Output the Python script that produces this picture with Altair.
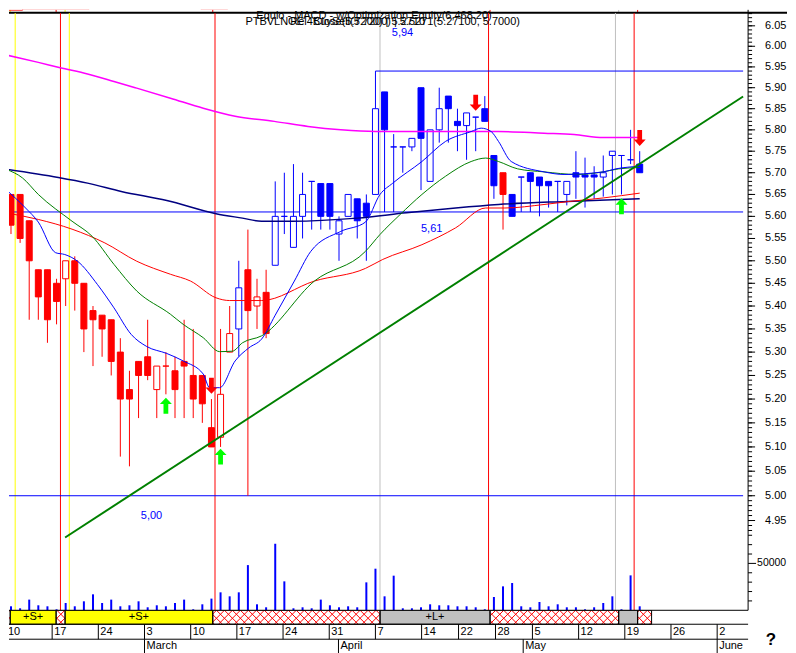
import math
import altair as alt
import pandas as pd

FONT = "Liberation Sans"

# ---------------- daily bars (index 0 = Mon 10 Feb 2003) ----------------
OPEN = [5.65, 5.65, 5.59, 5.48, 5.48, 5.45, 5.46, 5.50, 5.45, 5.39,
        5.38, 5.37, 5.30, 5.22, 5.28, 5.29, 5.22, 5.27, 5.26, 5.28,
        5.25, 5.25, 5.14, 5.12, 5.30, 5.35, 5.48, 5.40, 5.43, 5.49,
        5.60, 5.53, 5.60, 5.68, 5.675, 5.675, 5.56, 5.60, 5.64, 5.63,
        5.65, 5.89, 5.76, 5.76, 5.76, 5.90, 5.68, 5.80, 5.88, 5.82,
        5.81, 5.83, 5.85, 5.74, 5.70, 5.65, 5.69, 5.70, 5.69, 5.68,
        5.68, 5.65, 5.70, 5.695, 5.695, 5.69, 5.74, 5.74, 5.73, 5.72]
HIGH = [5.65, 5.65, 5.59, 5.48, 5.48, 5.46, 5.50, 5.51, 5.45, 5.40,
        5.38, 5.37, 5.33, 5.26, 5.28, 5.37, 5.27, 5.30, 5.29, 5.37,
        5.35, 5.25, 5.20, 5.35, 5.40, 5.50, 5.57, 5.46, 5.48, 5.68,
        5.70, 5.72, 5.70, 5.68, 5.675, 5.675, 5.60, 5.65, 5.64, 5.65,
        5.85, 5.89, 5.79, 5.76, 5.78, 5.90, 5.80, 5.90, 5.88, 5.85,
        5.84, 5.83, 5.88, 5.74, 5.70, 5.65, 5.69, 5.70, 5.69, 5.68,
        5.68, 5.68, 5.75, 5.735, 5.715, 5.74, 5.75, 5.74, 5.80, 5.75]
LOW = [5.56, 5.54, 5.37, 5.37, 5.32, 5.36, 5.40, 5.39, 5.30, 5.27,
       5.29, 5.25, 5.08, 5.06, 5.16, 5.24, 5.16, 5.21, 5.16, 5.16,
       5.16, 5.15, 5.10, 5.10, 5.30, 5.29, 5.00, 5.35, 5.33, 5.49,
       5.56, 5.53, 5.55, 5.57, 5.57, 5.57, 5.50, 5.60, 5.55, 5.50,
       5.65, 5.61, 5.61, 5.70, 5.75, 5.66, 5.68, 5.77, 5.77, 5.75,
       5.73, 5.75, 5.82, 5.64, 5.57, 5.60, 5.61, 5.61, 5.60, 5.62,
       5.61, 5.625, 5.64, 5.62, 5.64, 5.645, 5.65, 5.65, 5.72, 5.70]
CLOSE = [5.58, 5.55, 5.50, 5.42, 5.37, 5.41, 5.50, 5.45, 5.35, 5.37,
         5.35, 5.28, 5.20, 5.20, 5.25, 5.25, 5.27, 5.27, 5.22, 5.27,
         5.20, 5.19, 5.10, 5.21, 5.34, 5.44, 5.39, 5.42, 5.34, 5.60,
         5.60, 5.60, 5.65, 5.68, 5.60, 5.60, 5.59, 5.65, 5.59, 5.60,
         5.85, 5.80, 5.76, 5.76, 5.78, 5.78, 5.80, 5.85, 5.85, 5.81,
         5.84, 5.83, 5.82, 5.67, 5.65, 5.60, 5.69, 5.68, 5.67, 5.67,
         5.68, 5.68, 5.69, 5.69, 5.69, 5.70, 5.75, 5.74, 5.73, 5.70]
BAR_STATE = "R" * 25 + "B" + "R" * 3 + "B" * 25 + "R" + "B" * 15
VOLUME = [4255, 2128, 11380, 5319, 4255, 1064, 7766, 4255, 9574, 17021,
          7766, 11380, 4255, 5319, 9574, 3191, 5319, 4255, 7766, 11380,
          1064, 6383, 12447, 19148, 14893, 19148, 48191, 6383, 3191, 70955,
          30851, 2128, 3191, 2128, 11380, 5319, 3191, 4255, 3191, 29787,
          44361, 14893, 36914, 2128, 2128, 3191, 6383, 5319, 5319, 4255,
          4255, 3191, 1064, 14184, 25532, 29078, 4255, 3191, 8865, 4255,
          6383, 3191, 3191, 1064, 3191, 7766, 14893, 1064, 37234, 4255]

# ---------------- moving averages (index, value) ----------------
MA_MAGENTA_I = [-0.54, 3.0, 5.4, 8.4, 11.3, 13.8, 17.5, 21.1, 24.6, 28.9, 32.6, 36.2, 40, 45, 53.5, 58.5, 61.8, 65, 69]
MA_MAGENTA = [5.979, 5.961, 5.948, 5.933, 5.915, 5.899, 5.875, 5.851, 5.832, 5.820, 5.808, 5.800, 5.796, 5.796, 5.796, 5.792, 5.789, 5.782, 5.782]
MA_NAVY_I = [-0.54, 5.2, 8.4, 12.1, 17.1, 22.5, 25.4, 27.5, 30.8, 38, 43.4, 48.8, 53.5, 61, 69]
MA_NAVY = [5.708, 5.689, 5.676, 5.657, 5.636, 5.606, 5.596, 5.589, 5.589, 5.596, 5.608, 5.619, 5.627, 5.634, 5.640]
MA_RED_I = [-0.54, 3.0, 6.7, 10.3, 13.8, 17.5, 19.7, 22.5, 24, 27.5, 33.3, 38.9, 40.8, 45.1, 48.8, 52.1, 54.2, 58.5, 61.3, 65, 69]
MA_RED = [5.608, 5.593, 5.571, 5.540, 5.499, 5.470, 5.455, 5.418, 5.412, 5.412, 5.455, 5.483, 5.503, 5.536, 5.574, 5.619, 5.619, 5.627, 5.634, 5.642, 5.653]
MA_GREEN_I = [-0.54, 1.26, 3.0, 6.7, 8.9, 11.3, 13.8, 17.5, 18.9, 21.1, 22.9, 24.3, 25.4, 27.5, 33.3, 38.9, 40.5, 42.7, 45.1, 47.7, 50.5, 52.1, 53.5, 55.6, 58.5, 62.1, 65, 66.7, 69]
MA_GREEN = [5.708, 5.688, 5.650, 5.589, 5.555, 5.492, 5.433, 5.382, 5.360, 5.331, 5.301, 5.302, 5.320, 5.335, 5.455, 5.521, 5.559, 5.604, 5.650, 5.692, 5.726, 5.734, 5.726, 5.709, 5.702, 5.696, 5.702, 5.709, 5.712]
MA_BLUE_I = [-0.54, 1.6, 3.0, 4.9, 5.9, 7.3, 9.5, 11.3, 13.2, 14.9, 17.1, 18.9, 21.1, 21.8, 22.9, 24.6, 26.1, 27.5, 29, 31.1, 32.9, 36.2, 38.9, 40.5, 41.9, 45.1, 47.7, 50.5, 51.6, 52.7, 53.5, 54.9, 58.5, 60.7, 65, 66.4, 69]
MA_BLUE = [5.661, 5.619, 5.587, 5.518, 5.514, 5.499, 5.447, 5.396, 5.338, 5.312, 5.297, 5.281, 5.253, 5.224, 5.224, 5.281, 5.309, 5.328, 5.38, 5.455, 5.521, 5.566, 5.587, 5.650, 5.676, 5.726, 5.773, 5.796, 5.804, 5.796, 5.773, 5.726, 5.702, 5.696, 5.702, 5.709, 5.715]

# trend line and level lines
TREND_I = [5.94, 80.35]
TREND_P = [4.916, 5.879]
LEVEL_P = [5.94, 5.61, 5.00]
LEVEL_FROM = [40, -0.54, -0.54]
LEVEL_TEXT = ["5,94", "5,61", "5,00"]
LEVEL_TEXT_I = [41.8, 45.0, 14.25]
LEVEL_TEXT_P = [6.033, 5.571, 4.960]
BOX_I, BOX_FROM, BOX_TO = 40, 5.85, 5.94

# signals
SIG_I = [0.46, 5.43, 6.40, 22.39, 40.50, 52.41, 66.34, 68.39]
SIG_COL = ["#ffff00", "#ff0000", "#ffff00", "#ff0000", "#c0c0c0", "#ff0000", "#c0c0c0", "#ff0000"]
UP_I = [17, 23, 67]
UP_P = [5.186, 5.080, 5.623]
DN_I = [22, 51, 69]
DN_P = [5.228, 5.864, 5.781]

# strip (trade state)
SEG_FROM = [-2, 0.46, 5.43, 6.40, 22.39, 40.50, 52.41, 66.34, 68.39]
SEG_TO = [0.46, 5.43, 6.40, 22.39, 40.50, 52.41, 66.34, 68.39, 69.90]
SEG_KIND = ["flat", "short", "flat", "short", "flat", "long", "flat", "long", "flat"]
SEG_TEXT = ["", "+S+", "", "+S+", "", "+L+", "", "", ""]

# equity
EQ_I = [-0.54, 1.8, 9.0, 21.1, 24.0, 46.2, 53.5, 57.0, 62.4, 65.7, 69.0]
EQ_V = [6062, 6122, 6200, 6122, 6260, 6320, 6260, 6398, 6380, 6458, 6468.2]

# axes
PRICE_LABELS = [4.95, 5.0, 5.05, 5.1, 5.15, 5.2, 5.25, 5.3, 5.35, 5.4, 5.45, 5.5, 5.55, 5.6,
                5.65, 5.7, 5.75, 5.8, 5.85, 5.9, 5.95, 6.0, 6.05]
VOL_TICKS = [10000, 20000, 30000, 40000, 60000, 70000, 80000]
VOL_LABEL = [50000]
DAY_I = [0, 5, 10, 15, 20, 25, 30, 35, 40, 45, 49, 53, 57, 62, 67, 72, 77]
DAY_TXT = ["10", "17", "24", "3", "10", "17", "24", "31", "7", "14", "22", "28", "5", "12", "19", "26", "2"]
MON_I = [-5, 15, 36, 56, 77]
MON_TXT = ["February", "March", "April", "May", "June"]

TITLE1 = "Equio - MACD - w/Optimization Equity(6,468.20)"
TITLE2A = "PTBVLNOE - Close(5.7200) | 5.2710"
TITLE2B = "Rel4BuySell(5.7200) | 5.5271(5.27100, 5.7000)"

# ---------------- layout ----------------
PXI = 9.26                    # pixels per trading day
X1 = 80.35                    # right edge of plot (index units)
W = 741                       # plot width
XL = X1 - W / PXI             # left edge of plot (index units)
H_TOP, H_MAIN, H_STRIP = 3, 599, 43
P_LO, P_HI = 4.773, 6.082
V_MAX = 637234
R_STRIP, R_DAY = 14, 29       # row boundaries inside the strip pane

xs = alt.Scale(domain=[XL, X1], nice=False, zero=False)
ys = alt.Scale(type="log", domain=[P_LO, P_HI], nice=False, zero=False)
vs = alt.Scale(domain=[0, V_MAX], nice=False, zero=True)
ss = alt.Scale(domain=[0, H_STRIP], reverse=True, nice=False, zero=False)


def X(f="i"):
    return alt.X(f"{f}:Q", scale=xs, axis=None)


def Y(f="p"):
    return alt.Y(f"{f}:Q", scale=ys, axis=None)


def SY(f):
    return alt.Y(f"{f}:Q", scale=ss, axis=None)


one = pd.DataFrame({"d": [0]})

bars = pd.DataFrame({"i": list(range(len(OPEN))), "o": OPEN, "h": HIGH, "l": LOW, "c": CLOSE,
                     "v": VOLUME})
bars["col"] = ["#ff0000" if s == "R" else "#0000ff" for s in BAR_STATE]
bars["fillc"] = ["#ffffff" if c > o else col for o, c, col in zip(bars.o, bars.c, bars.col)]

sig = pd.DataFrame({"i": SIG_I, "col": SIG_COL})
sig_rules = alt.Chart(sig).mark_rule(strokeWidth=1, clip=True).encode(
    x=X(), color=alt.Color("col:N", scale=None))

levels = alt.Chart(pd.DataFrame({"a": LEVEL_FROM, "p": LEVEL_P})).transform_calculate(
    b=str(X1)).mark_rule(color="#0000ff", strokeWidth=1, clip=True).encode(x=X("a"), x2="b:Q", y=Y())
box = alt.Chart(pd.DataFrame({"i": [BOX_I], "p": [BOX_FROM], "p2": [BOX_TO]})).mark_rule(
    color="#0000ff", strokeWidth=1).encode(x=X(), y=Y(), y2="p2:Q")

wicks = alt.Chart(bars).mark_rule(strokeWidth=1, clip=True).encode(
    x=X(), y=Y("l"), y2="h:Q", color=alt.Color("col:N", scale=None))
bodies = alt.Chart(bars).mark_bar(size=6, strokeWidth=1, clip=True).encode(
    x=X(), y=Y("o"), y2="c:Q", fill=alt.Fill("fillc:N", scale=None), stroke=alt.Stroke("col:N", scale=None))


def ma(idx, vals, color, width):
    return alt.Chart(pd.DataFrame({"i": idx, "p": vals})).mark_line(
        color=color, strokeWidth=width, interpolate="monotone", clip=True).encode(x=X(), y=Y())


mas = [ma(MA_MAGENTA_I, MA_MAGENTA, "#ff00ff", 1.5),
       ma(MA_NAVY_I, MA_NAVY, "#000080", 1.5),
       ma(MA_RED_I, MA_RED, "#ff0000", 1),
       ma(MA_GREEN_I, MA_GREEN, "#008000", 1),
       ma(MA_BLUE_I, MA_BLUE, "#0000ff", 1)]

trend = alt.Chart(pd.DataFrame({"i": TREND_I, "p": TREND_P})).mark_line(
    color="#008000", strokeWidth=2, clip=True).encode(x=X(), y=Y())

UP_SHAPE = "M0,-1L0.75,-0.2L0.3,-0.2L0.3,1L-0.3,1L-0.3,-0.2L-0.75,-0.2Z"
DN_SHAPE = "M0,1L0.75,0.2L0.3,0.2L0.3,-1L-0.3,-1L-0.3,0.2L-0.75,0.2Z"
ups = alt.Chart(pd.DataFrame({"i": UP_I, "p": UP_P})).mark_point(
    shape=UP_SHAPE, size=256, filled=True, color="#00ff00", opacity=1).encode(x=X(), y=Y())
dns = alt.Chart(pd.DataFrame({"i": DN_I, "p": DN_P})).mark_point(
    shape=DN_SHAPE, size=256, filled=True, color="#ff0000", opacity=1).encode(x=X(), y=Y())

ann = alt.Chart(pd.DataFrame({"i": LEVEL_TEXT_I, "p": LEVEL_TEXT_P, "t": LEVEL_TEXT})).mark_text(
    align="left", baseline="middle", color="#0000ff", font=FONT, fontSize=11).encode(x=X(), y=Y(), text="t:N")

t2 = alt.Chart(pd.DataFrame({"t": [TITLE2A]})).mark_text(
    align="left", baseline="middle", font=FONT, fontSize=11, color="black").encode(
    text="t:N", x=alt.value(237), y=alt.value(9.5))
t3 = alt.Chart(pd.DataFrame({"t": [TITLE2B]})).mark_text(
    align="left", baseline="middle", font=FONT, fontSize=11, color="black").encode(
    text="t:N", x=alt.value(282), y=alt.value(9.5))

# price axis drawn with marks on the price scale
p_domain = alt.Chart(one).mark_rule(color="black").encode(
    x=alt.value(W), y=alt.value(0), y2=alt.value(H_MAIN))
p_major = alt.Chart(pd.DataFrame({"p": PRICE_LABELS})).mark_rule(color="black").encode(
    x=alt.value(W), x2=alt.value(W + 7), y=Y())
p_minor = alt.Chart(alt.sequence(493, 609, 1, as_="k")).transform_calculate(
    p="datum.k / 100").mark_rule(color="black").encode(x=alt.value(W), x2=alt.value(W + 4), y=Y())
p_labels = alt.Chart(pd.DataFrame({"p": PRICE_LABELS})).transform_calculate(
    t="format(datum.p, '.2f')").mark_text(
    align="left", baseline="middle", font=FONT, fontSize=11, color="black").encode(
    x=alt.value(W + 17), y=Y(), text="t:N")

price_layer = alt.layer(sig_rules, levels, box, wicks, bodies, *mas, trend, ups, dns, ann, t2, t3,
                        p_domain, p_major, p_minor, p_labels)

vbars = alt.Chart(bars).mark_bar(size=2, color="#0000ff").encode(
    x=X(), y=alt.Y("v:Q", scale=vs, axis=None))
vticks = alt.Chart(pd.DataFrame({"v": VOL_TICKS})).mark_rule(color="black").encode(
    x=alt.value(W), x2=alt.value(W + 4), y=alt.Y("v:Q", scale=vs, axis=None))
vmajor = alt.Chart(pd.DataFrame({"v": VOL_LABEL})).mark_rule(color="black").encode(
    x=alt.value(W), x2=alt.value(W + 8), y=alt.Y("v:Q", scale=vs, axis=None))
vlabel = alt.Chart(pd.DataFrame({"v": VOL_LABEL})).mark_text(
    align="left", baseline="middle", font=FONT, fontSize=10.5, color="black").encode(
    x=alt.value(W + 9), y=alt.Y("v:Q", scale=vs, axis=None), text=alt.Text("v:Q", format="d"))
vol_layer = alt.layer(vbars, vticks, vmajor, vlabel)

main = alt.layer(price_layer, vol_layer).resolve_scale(y="independent").properties(width=W, height=H_MAIN)

# ---------------- top (equity) pane ----------------
eq_line = alt.Chart(pd.DataFrame({"i": EQ_I, "e": EQ_V})).mark_line(
    color="#ff0000", strokeWidth=1, interpolate="step-after", clip=True).encode(
    x=X(), y=alt.Y("e:Q", scale=alt.Scale(domain=[5900, 6080], nice=False, zero=False), axis=None))
eq_border = alt.Chart(one).mark_rule(color="black", strokeWidth=2).encode(
    x=alt.value(0), x2=alt.value(780), y=alt.value(H_TOP))
eq_axis = alt.Chart(one).mark_rule(color="black", strokeWidth=1).encode(
    x=alt.value(W), y=alt.value(0), y2=alt.value(H_TOP))
t1 = alt.Chart(pd.DataFrame({"t": [TITLE1]})).mark_text(
    align="left", baseline="top", font=FONT, fontSize=11, color="black").encode(
    text="t:N", x=alt.value(248), y=alt.value(0))
top_pane = alt.layer(sig_rules, eq_line, eq_axis, eq_border, t1).properties(width=W, height=H_TOP)

# ---------------- state strip + date axis ----------------
PX_PER_I = W / (X1 - XL)
HATCH_STEP = 8


def hatch_rows(a, b):
    pa, pb = (max(a, XL) - XL) * PX_PER_I, (b - XL) * PX_PER_I
    out = []
    c = math.floor((pa - R_STRIP) / HATCH_STEP) * HATCH_STEP
    while c <= pb + R_STRIP:
        lo, hi = max(0.0, pa - c), min(R_STRIP, pb - c)
        if hi > lo:
            out.append((c + lo, c + hi, lo, hi))
        lo, hi = max(0.0, c - pb), min(R_STRIP, c - pa)
        if hi > lo:
            out.append((c - lo, c - hi, lo, hi))
        c += HATCH_STEP
    return out


hrows = []
for a, b, k in zip(SEG_FROM, SEG_TO, SEG_KIND):
    if k == "flat" and b > XL:
        for x0, x1, y0, y1 in hatch_rows(a, b):
            hrows.append({"i": XL + x0 / PX_PER_I, "i2": XL + x1 / PX_PER_I, "y": y0, "y2": y1})
hatch = alt.Chart(pd.DataFrame(hrows)).mark_rule(color="#ff0000", strokeWidth=1, clip=True).encode(
    x=X(), x2="i2:Q", y=SY("y"), y2="y2:Q")

segs = pd.DataFrame({"i": SEG_FROM, "i2": SEG_TO, "kind": SEG_KIND, "t": SEG_TEXT})
SEG_FILL = alt.Scale(domain=["flat", "short", "long"], range=["#ffffff", "#ffff00", "#c0c0c0"])
seg_rect = alt.Chart(segs).transform_calculate(y0="0", y1=str(R_STRIP)).mark_rect(clip=True).encode(
    x=X(), x2="i2:Q", y=SY("y0"), y2="y1:Q", fill=alt.Fill("kind:N", scale=SEG_FILL, legend=None))
seg_border = alt.Chart(segs).transform_calculate(y0="0", y1=str(R_STRIP)).mark_rect(
    stroke="black", strokeWidth=1, fillOpacity=0, clip=True).encode(
    x=X(), x2="i2:Q", y=SY("y0"), y2="y1:Q")
seg_text = alt.Chart(segs).transform_filter("datum.t != ''").transform_calculate(
    m="(datum.i + datum.i2) / 2", ym=str(R_STRIP / 2)).mark_text(
    font=FONT, fontSize=11, color="black", baseline="middle").encode(
    x=X("m"), y=SY("ym"), text="t:N")

hlines = alt.Chart(pd.DataFrame({"r": [0, R_STRIP, R_DAY]})).mark_rule(color="black", strokeWidth=1).encode(
    x=alt.value(0), x2=alt.value(W), y=SY("r"))

days = pd.DataFrame({"i": DAY_I, "t": DAY_TXT})
day_sep = alt.Chart(days).transform_calculate(y0=str(R_STRIP), y1=str(R_DAY)).mark_rule(
    color="black", strokeWidth=1, clip=True).encode(x=X(), y=SY("y0"), y2="y1:Q")
day_txt = alt.Chart(days).transform_calculate(ym=str((R_STRIP + R_DAY) / 2)).mark_text(
    align="left", baseline="middle", dx=2, font=FONT, fontSize=11, color="black", clip=True).encode(
    x=X(), y=SY("ym"), text="t:N")

mons = pd.DataFrame({"i": MON_I, "t": MON_TXT})
mon_sep = alt.Chart(mons).transform_calculate(y0=str(R_DAY), y1=str(H_STRIP)).mark_rule(
    color="black", strokeWidth=1, clip=True).encode(x=X(), y=SY("y0"), y2="y1:Q")
mon_txt = alt.Chart(mons).transform_calculate(ym=str((R_DAY + H_STRIP) / 2)).mark_text(
    align="left", baseline="middle", dx=2, font=FONT, fontSize=11, color="black", clip=True).encode(
    x=X(), y=SY("ym"), text="t:N")

qmark = alt.Chart(pd.DataFrame({"t": ["?"]})).mark_text(
    font=FONT, fontSize=17, fontWeight="bold", color="black", baseline="middle", align="center").encode(
    text="t:N", x=alt.value(764), y=alt.value(30))

strip_pane = alt.layer(seg_rect, hatch, seg_border, seg_text, hlines, day_sep, day_txt, mon_sep, mon_txt,
                       qmark).properties(width=W, height=H_STRIP)

chart = alt.vconcat(top_pane, main, strip_pane, spacing=0, bounds="flush").properties(
    padding=0
).configure_view(stroke=None)

chart.save("out.html", embed_options={"renderer": "svg", "actions": False})
